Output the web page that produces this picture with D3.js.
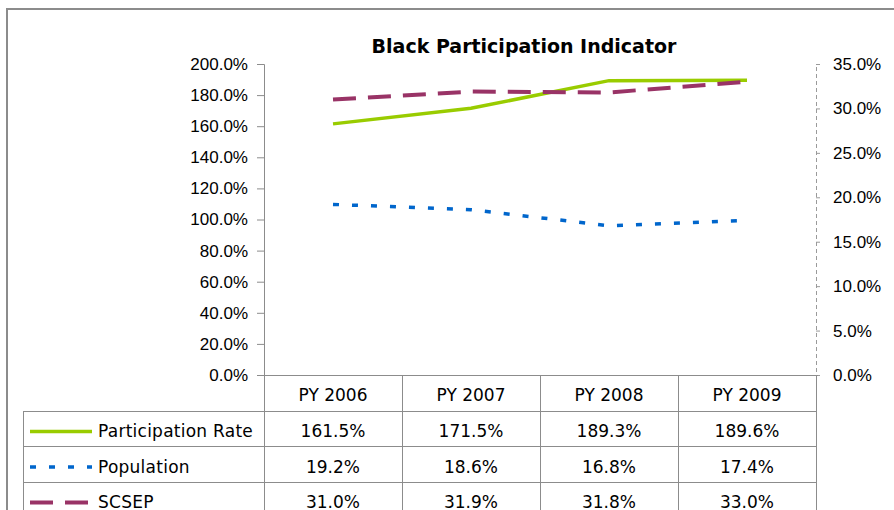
<!DOCTYPE html>
<html>
<head>
<meta charset="utf-8">
<script src="https://cdn.jsdelivr.net/npm/d3@7"></script>
<style>
  body { margin: 0; background: #fff; }
  svg { display: block; font-family: 'DejaVu Sans', sans-serif; }
  .axis text { font-size: 17px; fill: #000; }
  .axis-left path, .axis-left line { stroke: #8c8c8c; }
  .axis-right path, .axis-right line { stroke: #9a9a9a; stroke-dasharray: 4,3; }
</style>
</head>
<body>
<div id="chart"></div>
<script>
const categories = ['PY 2006', 'PY 2007', 'PY 2008', 'PY 2009'];
const participation = [161.5, 171.5, 189.3, 189.6];
const population = [19.2, 18.6, 16.8, 17.4];
const scsep = [31.0, 31.9, 31.8, 33.0];
const leftTicks = [0, 20, 40, 60, 80, 100, 120, 140, 160, 180, 200];
const rightTicks = [0, 5, 10, 15, 20, 25, 30, 35];

const width = 894;
const height = 510;

const plot = { left: 264, right: 816, top: 64, bottom: 375 };
const rowH = 35.6;

const series = [
  { name: 'Participation Rate', values: participation, axis: 'left', color: '#99cc00', dash: null, sw: 3.5 },
  { name: 'Population', values: population, axis: 'right', color: '#0066cc', dash: '6,13', sw: 3.5 },
  { name: 'SCSEP', values: scsep, axis: 'right', color: '#993366', dash: '23,12', sw: 4 },
];

const xScale = d3.scaleBand()
  .domain(categories)
  .range([plot.left, plot.right]);

const yLeft = d3.scaleLinear()
  .domain([0, 200])
  .range([plot.bottom, plot.top]);

const yRight = d3.scaleLinear()
  .domain([0, 35])
  .range([plot.bottom, plot.top]);

const svg = d3.select('#chart')
  .append('svg')
    .attr('width', width)
    .attr('height', height);

// outer chart frame (cut off on the right / bottom)
svg.append('rect')
  .attr('x', 7).attr('y', 9)
  .attr('width', 1000).attr('height', 600)
  .attr('fill', 'none')
  .attr('stroke', '#8c8c8c')
  .attr('stroke-width', 2);

// title
svg.append('text')
  .attr('x', 524).attr('y', 53)
  .attr('text-anchor', 'middle')
  .style('font-size', '19px')
  .style('font-weight', 'bold')
  .text('Black Participation Indicator');

const fmt = d => d.toFixed(1) + '%';

// left axis
svg.append('g')
  .attr('class', 'axis axis-left')
  .attr('transform', `translate(${plot.left},0)`)
  .call(d3.axisLeft(yLeft).tickValues(leftTicks).tickFormat(fmt).tickSize(7).tickSizeOuter(7).tickPadding(9));

// right axis
const rAxis = svg.append('g')
  .attr('class', 'axis axis-right')
  .attr('transform', `translate(${plot.right},0)`)
  .call(d3.axisRight(yRight).tickValues(rightTicks).tickFormat(fmt).tickSize(4).tickSizeOuter(4).tickPadding(13));
rAxis.selectAll('line').style('stroke-dasharray', null);

// data table grid
const rowY = i => Math.round(plot.bottom + i * rowH);
const tableBottom = plot.bottom + rowH * 4;
const grid = svg.append('g')
  .attr('stroke', '#8c8c8c')
  .attr('stroke-width', 1)
  .attr('shape-rendering', 'crispEdges');

grid.append('line')
  .attr('x1', plot.left).attr('x2', plot.right + 2)
  .attr('y1', plot.bottom + 0.5).attr('y2', plot.bottom + 0.5);

d3.range(1, 4).forEach(i => {
  grid.append('line')
    .attr('x1', 23).attr('x2', plot.right)
    .attr('y1', rowY(i) + 0.5).attr('y2', rowY(i) + 0.5);
});

categories.concat(['end']).forEach((c, i) => {
  const x = plot.left + i * xScale.bandwidth();
  grid.append('line')
    .attr('x1', x + 0.5).attr('x2', x + 0.5)
    .attr('y1', plot.bottom).attr('y2', tableBottom);
});

grid.append('line')
  .attr('x1', 23.5).attr('x2', 23.5)
  .attr('y1', rowY(1)).attr('y2', tableBottom);

// header row
svg.append('g').selectAll('text')
  .data(categories)
  .enter().append('text')
    .attr('x', d => xScale(d) + xScale.bandwidth() / 2)
    .attr('y', plot.bottom + rowH / 2 + 8)
    .attr('text-anchor', 'middle')
    .style('font-size', '17px')
    .text(d => d);

// value rows + legend keys
series.forEach((s, r) => {
  const cy = plot.bottom + rowH * (r + 1) + rowH / 2;
  const row = svg.append('g');

  row.selectAll('text.val')
    .data(s.values)
    .enter().append('text')
      .attr('class', 'val')
      .attr('x', (d, i) => xScale(categories[i]) + xScale.bandwidth() / 2)
      .attr('y', cy + 8.5)
      .attr('text-anchor', 'middle')
      .style('font-size', '17px')
      .text(fmt);

  row.append('line')
    .attr('x1', 30).attr('x2', 92)
    .attr('y1', cy + 3).attr('y2', cy + 3)
    .attr('stroke', s.color)
    .attr('stroke-width', s.sw)
    .attr('stroke-dasharray', s.dash);

  row.append('text')
    .attr('x', 98)
    .attr('y', cy + 8.5)
    .style('font-size', '17px')
    .style('letter-spacing', '0.25px')
    .text(s.name);
});

// lines
const cx = d => xScale(d) + xScale.bandwidth() / 2;

series.forEach(s => {
  const y = s.axis === 'left' ? yLeft : yRight;
  const line = d3.line()
    .x((d, i) => cx(categories[i]))
    .y(d => y(d));

  svg.append('path')
    .datum(s.values)
    .attr('fill', 'none')
    .attr('stroke', s.color)
    .attr('stroke-width', s.sw)
    .attr('stroke-dasharray', s.dash)
    .attr('d', line);
});
</script>
</body>
</html>
